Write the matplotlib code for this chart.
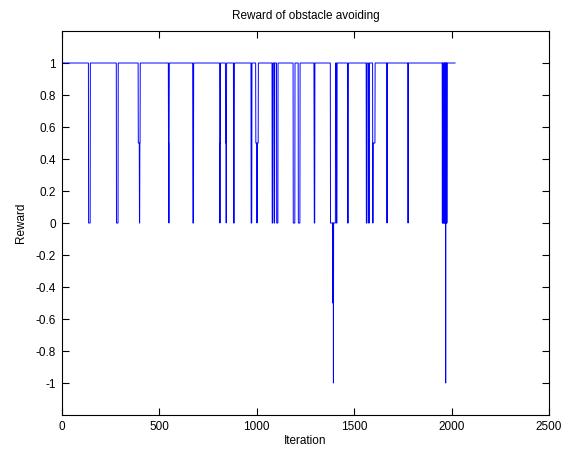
import numpy as np
import matplotlib
matplotlib.use('Agg')
from matplotlib import pyplot as plt

# lunghezza della serie (iterazioni)
n_iter = 2019

# episodi in cui la ricompensa non vale 1: inizio, fine (incluse), valore
dip_start = [138, 281, 393, 399, 548, 550, 673, 811, 812, 841, 844, 882, 972,
             996, 1002, 1080, 1091, 1103, 1188, 1214, 1295, 1296, 1379, 1390,
             1394, 1410, 1467, 1563, 1575, 1596, 1598, 1669, 1777,
             1953, 1955, 1957, 1959, 1963, 1965, 1967, 1970, 1972, 1974, 1976]
dip_end = [146, 289, 402, 400, 551, 550, 676, 814, 812, 845, 844, 885, 975,
           1008, 1002, 1083, 1092, 1109, 1196, 1222, 1295, 1298, 1404, 1390,
           1394, 1412, 1470, 1566, 1578, 1597, 1607, 1669, 1777,
           1953, 1955, 1957, 1961, 1963, 1965, 1967, 1970, 1972, 1974, 1976]
dip_value = [0, 0, 0.5, 0, 0.5, 0, 0, 0.5, 0, 0.5, 0, 0, 0,
             0.5, 0, 0, 0, 0, 0, 0, 0.5, 0, 0, -0.5,
             -1, 0, 0, 0, 0, 0, 0.5, 0, 0,
             0, 0, 0, 0, 0, 0, 0, -1, 0, 0, 0]

x_ticks = [0, 500, 1000, 1500, 2000, 2500]
y_ticks = [-1, -0.8, -0.6, -0.4, -0.2, 0, 0.2, 0.4, 0.6, 0.8, 1]

reward = np.ones(n_iter)
for s, e, v in zip(dip_start, dip_end, dip_value):
    reward[s:e + 1] = v
iteration = np.arange(n_iter)

plt.rcParams['font.family'] = ['Liberation Sans', 'DejaVu Sans']

fig = plt.figure(figsize=(5.64, 4.54), dpi=100)
ax = fig.add_axes([0.1094, 0.0859, 0.8640, 0.8458])
ax.plot(iteration, reward, color=(0, 0, 1), linewidth=0.7)

ax.set_xlim(0, 2500)
ax.set_ylim(-1.2, 1.2)
ax.set_xticks(x_ticks)
ax.set_yticks(y_ticks)
ax.set_yticklabels(['-1', '-0.8', '-0.6', '-0.4', '-0.2', '0',
                    '0.2', '0.4', '0.6', '0.8', '1'])
ax.tick_params(direction='in', length=5, width=0.8, labelsize=8.5,
               top=True, right=True, pad=4)
for sp in ax.spines.values():
    sp.set_linewidth(0.8)

ax.set_title('Reward of obstacle avoiding', fontsize=8.5, pad=9)
ax.set_xlabel('Iteration', fontsize=8.5, labelpad=2)
ax.set_ylabel('Reward', fontsize=8.5, labelpad=6)

fig.savefig('out.png', dpi=100)
